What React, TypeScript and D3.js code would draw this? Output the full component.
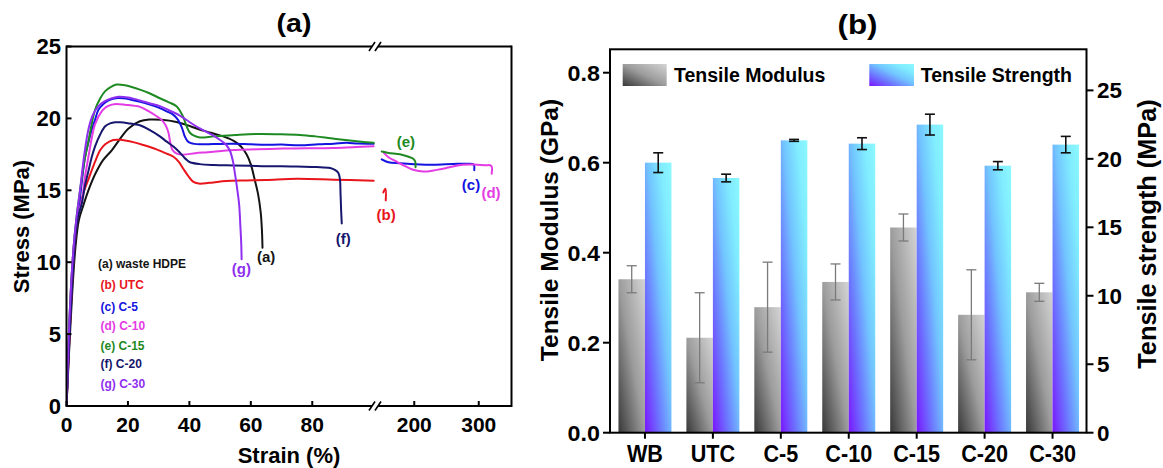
import React from 'react';
import * as d3 from 'd3';

type Pt = [number, number];

// ---------- Panel (a) data: stress-strain curves [strain %, stress MPa] ----------
const curveHDPE: Pt[] = [[0,0],[0.9,4],[1.9,8],[2.9,11],[4,12.9],[5.4,13.9],[7.5,15.2],[9.5,16.2],[11.9,17.1],[14.8,17.8],[17.5,18.6],[20.2,19.3],[23.9,19.8],[27,19.92],[31,19.9],[35.8,19.75],[39,19.55],[43,19.25],[47,19.0],[51,18.75],[54.3,18.45],[56.8,18.05],[58.6,17.5],[60,16.8],[61.2,15.8],[62.3,14.8],[63.2,13.5],[63.6,12.3],[63.8,11.0]];
const curveUTC: Pt[] = [[0,0],[0.8,4],[1.7,8],[2.6,11],[3.5,13],[4.4,13.9],[5.8,15],[7.2,15.8],[9.3,17.0],[11,17.8],[12.6,18.2],[15.2,18.5],[18,18.5],[21.7,18.35],[25,18.15],[29.3,17.85],[32,17.6],[34.7,17.35],[36.5,17.0],[38,16.5],[39.6,16.0],[41.2,15.6],[43,15.47],[44.5,15.47],[47.8,15.55],[52,15.65],[58.6,15.69],[65,15.72],[75,15.8],[87,15.74],[100,15.67]];
const curveC5: Pt[] = [[0,0],[0.7,4],[1.6,8],[2.5,11],[3.3,12.8],[3.9,13.6],[5,15.6],[6.1,17.4],[7.2,18.4],[8.2,19.2],[9.3,19.9],[10.4,20.6],[12,21.0],[13.7,21.25],[16,21.4],[18.4,21.4],[21,21.3],[24,21.15],[27.1,20.96],[30,20.75],[33,20.45],[34.7,20.26],[36.3,19.9],[37.5,19.4],[38.5,18.75],[39.5,18.4],[40.5,18.28],[43.4,18.2],[47.8,18.22],[54.3,18.24],[60,18.2],[65,18.17],[70,18.18],[76,18.13],[82,18.2],[87,18.24],[91,18.3],[95,18.25],[100,18.24]];
const curveC10: Pt[] = [[0,0],[0.6,4],[1.4,8],[2.3,11],[3.4,13],[5,14.3],[6,15.9],[7.2,17.4],[8.2,18.6],[9.3,19.6],[11.5,20.5],[13,20.8],[14.8,20.96],[16.3,21.0],[19,20.95],[23.9,20.8],[26.7,20.5],[29,20.2],[31,19.9],[32.3,19.5],[33.2,19.0],[33.8,18.3],[34.5,17.8],[35.9,17.55],[38,17.48],[41.9,17.58],[46,17.65],[54.3,17.8],[62,17.85],[70.6,17.9],[78,17.92],[86.8,17.95],[93,18.0],[100,18.06]];
const curveC15: Pt[] = [[0,0],[0.6,4],[1.4,8],[2.3,11],[3.2,13],[4.4,15.0],[5.8,17],[7.2,18.5],[9.3,20.6],[11,21.4],[12.6,21.9],[14.5,22.2],[16.3,22.35],[19,22.3],[23.9,22.0],[27,21.75],[30.4,21.4],[33,21.15],[35.8,20.85],[37,20.5],[38,20.1],[39.2,19.4],[40.2,19.0],[41.5,18.8],[43.4,18.68],[48,18.75],[55,18.85],[62,18.92],[70,18.9],[76,18.85],[81,18.75],[86,18.62],[91.5,18.48],[96,18.38],[100,18.3]];
const curveC20: Pt[] = [[0,0],[0.8,4],[1.7,8],[2.6,11],[3.6,13],[5,14.1],[6,15.3],[7.2,16.4],[8.2,17.3],[9.3,18.06],[11,18.9],[12.6,19.45],[14.2,19.65],[15.8,19.73],[17.5,19.73],[20,19.67],[23.9,19.52],[27,19.2],[30.4,18.75],[32.5,18.4],[34.7,18.06],[36.3,17.75],[38,17.36],[39.2,17.1],[40.2,16.95],[43.4,16.82],[48,16.76],[54.3,16.73],[60,16.7],[65.1,16.67],[70,16.68],[75,16.65],[81.4,16.62],[85.8,16.55],[87.5,16.4],[88.5,16.2],[89.0,15.8],[89.2,14.8],[89.4,13.6],[89.6,12.7]];
const curveC30: Pt[] = [[0,0],[0.6,4],[1.4,8],[2.3,11],[3.2,13],[4.4,15.0],[5.8,17.5],[7.2,19.3],[8.5,20.2],[10.4,20.85],[12.5,21.2],[14.8,21.4],[17,21.5],[20,21.45],[23.9,21.25],[27,21.05],[30.4,20.85],[33.5,20.55],[36.9,20.2],[40,19.75],[43.4,19.3],[47,18.9],[50,18.5],[52,18.15],[53.2,17.75],[54.2,17.0],[54.8,16.2],[55.5,15.2],[56.2,14.0],[56.6,12.5],[56.9,11.2],[57,10.2]];
// after the axis break
const tailUTC: Pt[] = [[152,14.85],[155.5,15.1],[155.8,14.3]];
const tailC5: Pt[] = [[149.5,17.15],[160,16.95],[177.8,16.88],[200,16.82],[229.5,16.78],[260,16.83],[281.5,16.85],[292,16.8],[293,16.4]];
const tailC10: Pt[] = [[153,17.6],[160,17.3],[172.6,17.0],[185,16.7],[198.4,16.43],[214,16.3],[234.8,16.42],[255,16.6],[275,16.78],[297,16.78],[310,16.75],[319.5,16.7],[320,16.15]];
const tailC15: Pt[] = [[149.5,17.7],[160,17.6],[177.8,17.5],[190,17.35],[198.4,17.2],[201.5,17.0],[202,16.6]];

const seriesNames = ['(a) waste HDPE', '(b) UTC', '(c) C-5', '(d) C-10', '(e) C-15', '(f) C-20', '(g) C-30'];
const seriesColors = ['#141414', '#e8151c', '#1414e0', '#e43ce4', '#1e8a22', '#16166e', '#8f2ff0'];
const mainCurves = [curveHDPE, curveUTC, curveC5, curveC10, curveC15, curveC20, curveC30];
const tailCurves: (Pt[] | null)[] = [null, tailUTC, tailC5, tailC10, tailC15, null, null];
// curve-end labels: [label, strain, stress, axis segment]
const endLabels: [string, number, number, number][] = [
  ['(a)', 65.0, 10.0, 1], ['(g)', 56.9, 9.2, 1], ['(f)', 90.1, 11.25, 1],
  ['(b)', 156.5, 12.9, 2], ['(e)', 187, 18.0, 2], ['(c)', 288, 15.0, 2], ['(d)', 319, 14.45, 2],
];
const yTicksA = [0, 5, 10, 15, 20, 25];
const xTicksA1 = [0, 20, 40, 60, 80];
const xTicksA2 = [200, 300];

// ---------- Panel (b) data ----------
const categories = ['WB', 'UTC', 'C-5', 'C-10', 'C-15', 'C-20', 'C-30'];
const modulus = [0.341, 0.211, 0.279, 0.335, 0.456, 0.262, 0.312];
const modulusErr = [0.030, 0.100, 0.100, 0.040, 0.030, 0.100, 0.020];
const strength = [19.72, 18.60, 21.35, 21.11, 22.50, 19.50, 21.04];
const strengthErr = [0.72, 0.28, 0.07, 0.43, 0.76, 0.30, 0.60];
const yTicksB1 = [0, 0.2, 0.4, 0.6, 0.8];
const yTicksB2 = [0, 5, 10, 15, 20, 25];

const FONT = "'Liberation Sans', Arial, Helvetica, sans-serif";

function T(props: { x: number; y: number; size: number; children: React.ReactNode; anchor?: string; fill?: string; sx?: number; rot?: number }) {
  const { x, y, size, children, anchor = 'start', fill = '#000', sx = 1, rot = 0 } = props;
  return (
    <text
      transform={`translate(${x},${y})${rot ? ` rotate(${rot})` : ''} scale(${sx},1)`}
      textAnchor={anchor as any}
      fontSize={size}
      fontWeight="bold"
      fontFamily={FONT}
      fill={fill}
    >
      {children}
    </text>
  );
}

export default function App() {
  // Panel (a) scales
  const aL = 66.5, aR = 511.5, aT = 46.5, aB = 406;
  const x1 = d3.scaleLinear().domain([0, 100]).range([aL, 373.7]);
  const x2 = d3.scaleLinear().domain([150, 350]).range([382, 511]);
  const yA = d3.scaleLinear().domain([0, 25]).range([aB, aT]);
  const line1 = d3.line<Pt>().x(d => x1(d[0])).y(d => yA(d[1])).curve(d3.curveCatmullRom.alpha(0.5));
  const line2 = d3.line<Pt>().x(d => x2(d[0])).y(d => yA(d[1])).curve(d3.curveCatmullRom.alpha(0.5));

  // Panel (b) scales
  const bL = 610, bR = 1086.5, bT = 49.3, bB = 432.7;
  const xB = d3.scaleBand<string>().domain(categories).range([bL + 1, bR]).padding(0);
  const yB1 = d3.scaleLinear().domain([0, 0.852]).range([bB, bT]);
  const yB2 = d3.scaleLinear().domain([0, 28]).range([bB, bT]);
  const barW = xB.bandwidth() * 0.39;
  const cx = (c: string) => (xB(c) as number) + xB.bandwidth() / 2;

  const breakXs = [369, 375];

  return (
    <svg width={1163} height={468} style={{ position: 'absolute', left: 0, top: 0, background: '#fff' }}>
      <defs>
        <linearGradient id="gGray" x1="0" y1="1" x2="1" y2="0">
          <stop offset="0" stopColor="#383838" />
          <stop offset="0.5" stopColor="#9c9c9c" />
          <stop offset="1" stopColor="#d4d4d4" />
        </linearGradient>
        <linearGradient id="gBlue" x1="0" y1="1" x2="1" y2="0">
          <stop offset="0" stopColor="#7a16ff" />
          <stop offset="0.3" stopColor="#6c78ff" />
          <stop offset="0.55" stopColor="#72c4ff" />
          <stop offset="0.8" stopColor="#80ecff" />
          <stop offset="1" stopColor="#8cf8ff" />
        </linearGradient>
        <clipPath id="clipA">
          <rect x={aL} y={aT} width={aR - aL} height={aB - aT} />
        </clipPath>
      </defs>
      <rect x={0} y={0} width={1163} height={468} fill="#fff" />

      {/* ================= Panel (a) ================= */}
      <T x={294} y={31.5} size={26} sx={1.1} anchor="middle">(a)</T>
      <g clipPath="url(#clipA)" fill="none" strokeWidth={2} strokeLinejoin="round" strokeLinecap="round">
        {mainCurves.map((c, i) => (
          <path key={'m' + i} d={line1(c) as string} stroke={seriesColors[i]} />
        ))}
        {tailCurves.map((c, i) => c ? (
          <path key={'t' + i} d={line2(c) as string} stroke={seriesColors[i]} />
        ) : null)}
      </g>
      {/* frame with axis break */}
      <g stroke="#000" strokeWidth={2} fill="none">
        <line x1={aL} y1={aT - 1} x2={aL} y2={aB + 1} />
        <line x1={aR} y1={aT - 1} x2={aR} y2={aB + 1} />
        <line x1={aL} y1={aT} x2={372} y2={aT} />
        <line x1={378} y1={aT} x2={aR} y2={aT} />
        <line x1={aL} y1={aB} x2={372} y2={aB} />
        <line x1={378} y1={aB} x2={aR} y2={aB} />
        {[aT, aB].map(y => breakXs.map(bx => (
          <line key={`${y}-${bx}`} x1={bx} y1={y + 4.5} x2={bx + 6} y2={y - 4.5} strokeWidth={1.6} />
        )))}
        {yTicksA.map(t => <line key={'ya' + t} x1={aL} y1={yA(t)} x2={aL + 5} y2={yA(t)} />)}
        {xTicksA1.map(t => <line key={'xa' + t} x1={x1(t)} y1={aB} x2={x1(t)} y2={aB - 5} />)}
        {xTicksA2.map(t => <line key={'xb' + t} x1={x2(t)} y1={aB} x2={x2(t)} y2={aB - 5} />)}
      </g>
      {yTicksA.map(t => <T key={'yl' + t} x={61} y={yA(t) + 7.8} size={22} anchor="end">{t}</T>)}
      {xTicksA1.map(t => <T key={'xl' + t} x={x1(t)} y={432} size={21} anchor="middle">{t}</T>)}
      {xTicksA2.map(t => <T key={'xl2' + t} x={x2(t)} y={432} size={21} anchor="middle">{t}</T>)}
      <T x={289} y={462.5} size={22} anchor="middle">Strain (%)</T>
      <T x={29} y={226.5} size={22} anchor="middle" rot={-90}>Stress (MPa)</T>
      {/* legend text */}
      {seriesNames.map((n, i) => (
        <T key={'lg' + i} x={i === 0 ? 98 : 100.5} y={[267.5, 289, 311, 330, 349.5, 368, 388][i]} size={12} fill={seriesColors[i]}>{n}</T>
      ))}
      {/* curve end labels */}
      {endLabels.map(([txt, sx, sy, seg], i) => {
        const idx = seriesNames.findIndex(n => n.startsWith(txt));
        const px = seg === 1 ? x1(sx) : x2(sx);
        return <T key={'el' + i} x={px} y={yA(sy)} size={15} anchor="middle" fill={seriesColors[idx]}>{txt}</T>;
      })}

      {/* ================= Panel (b) ================= */}
      <T x={857.5} y={34} size={28.5} sx={1.1} anchor="middle">(b)</T>
      {categories.map((c, i) => (
        <g key={'bar' + c}>
          <rect x={cx(c) - barW} y={yB1(modulus[i])} width={barW} height={bB - yB1(modulus[i])} fill="url(#gGray)" />
          <rect x={cx(c)} y={yB2(strength[i])} width={barW} height={bB - yB2(strength[i])} fill="url(#gBlue)" />
        </g>
      ))}
      {categories.map((c, i) => {
        const gx = cx(c) - barW / 2;
        const bx = cx(c) + barW / 2;
        const g1 = yB1(modulus[i] + modulusErr[i]), g2 = yB1(modulus[i] - modulusErr[i]);
        const s1 = yB2(strength[i] + strengthErr[i]), s2 = yB2(strength[i] - strengthErr[i]);
        return (
          <g key={'err' + c}>
            <g stroke="#7a7a7a" strokeWidth={1.3}>
              <line x1={gx} y1={g1} x2={gx} y2={g2} />
              <line x1={gx - 5} y1={g1} x2={gx + 5} y2={g1} />
              <line x1={gx - 5} y1={g2} x2={gx + 5} y2={g2} />
            </g>
            <g stroke="#111" strokeWidth={1.6}>
              <line x1={bx} y1={s1} x2={bx} y2={s2} />
              <line x1={bx - 5} y1={s1} x2={bx + 5} y2={s1} />
              <line x1={bx - 5} y1={s2} x2={bx + 5} y2={s2} />
            </g>
          </g>
        );
      })}
      <g stroke="#000" strokeWidth={2} fill="none">
        <rect x={bL} y={bT} width={bR - bL} height={bB - bT} />
        {yTicksB1.map(t => <line key={'b1' + t} x1={bL - 7} y1={yB1(t)} x2={bL} y2={yB1(t)} />)}
        {yTicksB2.map(t => <line key={'b2' + t} x1={bR} y1={yB2(t)} x2={bR + 7} y2={yB2(t)} />)}
        {categories.map(c => <line key={'bx' + c} x1={cx(c)} y1={bB} x2={cx(c)} y2={bB + 6} />)}
      </g>
      {yTicksB1.map(t => <T key={'b1l' + t} x={600} y={yB1(t) + 7.8} size={22} sx={1.06} anchor="end">{d3.format('.1f')(t)}</T>)}
      {yTicksB2.map(t => <T key={'b2l' + t} x={1097} y={yB2(t) + 7.8} size={22} sx={1.02}>{t}</T>)}
      {categories.map(c => <T key={'cl' + c} x={cx(c)} y={462} size={24} sx={0.9} anchor="middle">{c}</T>)}
      <T x={558} y={230} size={24.5} anchor="middle" rot={-90}>Tensile Modulus (GPa)</T>
      <T x={1156} y={234} size={25.3} anchor="middle" rot={-90}>Tensile strength (MPa)</T>
      {/* legend */}
      <rect x={622.7} y={64} width={44} height={22} fill="url(#gGray)" />
      <T x={674} y={82} size={19.5}>Tensile Modulus</T>
      <rect x={869.3} y={64} width={44.7} height={22} fill="url(#gBlue)" />
      <T x={920.7} y={82} size={19.5}>Tensile Strength</T>
    </svg>
  );
}
